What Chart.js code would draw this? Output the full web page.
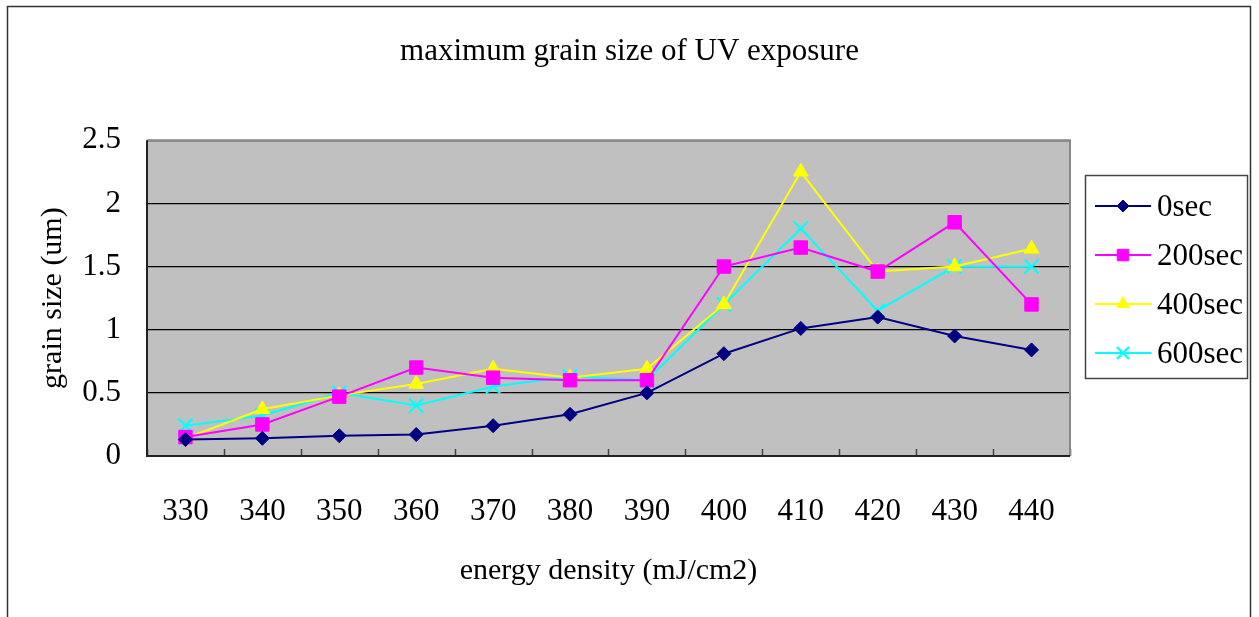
<!DOCTYPE html>
<html>
<head>
<meta charset="utf-8">
<script src="https://cdn.jsdelivr.net/npm/chart.js@4.4.0/dist/chart.umd.min.js"></script>
<style>
    html, body { margin: 0; padding: 0; background: #fff; }
    #wrap { width: 1259px; height: 617px; }
</style>
</head>
<body>
<div id="wrap"><canvas id="uvChart"></canvas></div>
<script>
const energyLabels = ['330', '340', '350', '360', '370', '380', '390', '400', '410', '420', '430', '440'];
const sec0 = [0.13, 0.14, 0.16, 0.17, 0.24, 0.33, 0.50, 0.81, 1.01, 1.10, 0.95, 0.84];
const sec200 = [0.15, 0.25, 0.47, 0.70, 0.62, 0.60, 0.60, 1.50, 1.65, 1.46, 1.85, 1.20];
const sec400 = [0.14, 0.37, 0.48, 0.57, 0.69, 0.62, 0.69, 1.20, 2.25, 1.46, 1.50, 1.64];
const sec600 = [0.24, 0.32, 0.50, 0.40, 0.55, 0.63, 0.60, 1.20, 1.80, 1.15, 1.50, 1.50];
const seriesNames = ['0sec', '200sec', '400sec', '600sec'];
const yTicks = [0, 0.5, 1, 1.5, 2, 2.5];

const FONT = "'Liberation Serif', 'DejaVu Serif', serif";

function makeSeries(label, data, color, style, radius) {
    return {
        label, data,
        borderColor: color,
        backgroundColor: color,
        borderWidth: 2,
        pointStyle: style,
        pointRadius: radius,
        pointHoverRadius: radius,
        pointBorderWidth: style === 'crossRot' ? 2.2 : 1,
        tension: 0
    };
}

// grey plot background, outer frame, inward x ticks
const framePlugin = {
    id: 'frame',
    beforeDraw(chart) {
        const { ctx, chartArea: a } = chart;
        ctx.save();
        ctx.fillStyle = '#c0c0c0';
        ctx.fillRect(a.left, a.top, a.right - a.left, a.bottom - a.top);
        ctx.strokeStyle = '#333';
        ctx.lineWidth = 1.5;
        ctx.strokeRect(7.5, 6.5, 1243, 640);
        ctx.restore();
    },
    afterDatasetsDraw(chart) {
        const { ctx, chartArea: a, scales } = chart;
        const x = scales.x;
        const step = x.getPixelForValue(1) - x.getPixelForValue(0);
        ctx.save();
        ctx.strokeStyle = '#444';
        ctx.lineWidth = 1.5;
        for (let i = 0; i <= energyLabels.length; i++) {
            const px = Math.round(x.getPixelForValue(i) - step / 2) + 0.5;
            ctx.beginPath();
            ctx.moveTo(px, a.bottom);
            ctx.lineTo(px, a.bottom - 7);
            ctx.stroke();
        }
        ctx.strokeStyle = '#888';
        ctx.lineWidth = 2;
        ctx.beginPath();
        ctx.moveTo(a.left, a.top);
        ctx.lineTo(a.right, a.top);
        ctx.lineTo(a.right, a.bottom);
        ctx.stroke();
        ctx.strokeStyle = '#222';
        ctx.beginPath();
        ctx.moveTo(a.left, a.top);
        ctx.lineTo(a.left, a.bottom);
        ctx.lineTo(a.right, a.bottom);
        ctx.stroke();
        ctx.restore();
    }
};

// boxed legend on the right, line + marker like the original
const boxLegend = {
    id: 'boxLegend',
    afterDraw(chart) {
        const { ctx, chartArea: a } = chart;
        const bx = a.right + 15, by = 175, bw = 162, bh = 203;
        ctx.save();
        ctx.fillStyle = '#fff';
        ctx.fillRect(bx, by, bw, bh);
        ctx.strokeStyle = '#444';
        ctx.lineWidth = 1.5;
        ctx.strokeRect(bx + 0.5, by + 0.5, bw, bh);
        ctx.font = '31px ' + FONT;
        ctx.textBaseline = 'middle';
        chart.data.datasets.forEach((ds, i) => {
            const cy = by + 31 + i * 49;
            ctx.strokeStyle = ds.borderColor;
            ctx.lineWidth = 2;
            ctx.beginPath();
            ctx.moveTo(bx + 10, cy);
            ctx.lineTo(bx + 66, cy);
            ctx.stroke();
            ctx.fillStyle = ds.backgroundColor;
            ctx.lineWidth = ds.pointBorderWidth;
            Chart.helpers.drawPoint(ctx, {
                pointStyle: ds.pointStyle,
                radius: ds.pointRadius * 0.85,
                borderWidth: ds.pointBorderWidth,
                rotation: 0
            }, bx + 38, cy);
            ctx.fillStyle = '#000';
            ctx.fillText(ds.label, bx + 72, cy + 2);
        });
        ctx.restore();
    }
};

const ctx = document.getElementById('uvChart').getContext('2d');
new Chart(ctx, {
    type: 'line',
    data: {
        labels: energyLabels,
        datasets: [
            makeSeries(seriesNames[0], sec0, '#000080', 'rectRot', 7),
            makeSeries(seriesNames[1], sec200, '#ff00ff', 'rect', 9.5),
            makeSeries(seriesNames[2], sec400, '#ffff00', 'triangle', 8.5),
            makeSeries(seriesNames[3], sec600, '#00ffff', 'crossRot', 10)
        ]
    },
    options: {
        responsive: true,
        maintainAspectRatio: false,
        animation: false,
        layout: { padding: 0 },
        plugins: {
            legend: { display: false },
            tooltip: { enabled: false },
            title: {
                display: true,
                text: 'maximum grain size of UV exposure',
                color: '#000',
                font: { family: FONT, size: 31, weight: 'normal' },
                padding: { top: 33, bottom: 70 }
            }
        },
        scales: {
            x: {
                offset: true,
                afterFit(scale) { scale.height = 161; },
                grid: { display: false, drawTicks: false },
                border: { display: false },
                ticks: {
                    color: '#000',
                    padding: 37,
                    maxRotation: 0,
                    font: { family: FONT, size: 31 }
                },
                title: {
                    display: true,
                    text: 'energy density (mJ/cm2)',
                    color: '#000',
                    font: { family: FONT, size: 30 },
                    padding: { top: 0, bottom: 28 }
                }
            },
            y: {
                min: 0,
                max: 2.5,
                afterFit(scale) { scale.width = 147; },
                afterBuildTicks(scale) { scale.ticks = yTicks.map(v => ({ value: v })); },
                grid: { color: '#000', lineWidth: 1.2, drawTicks: false },
                border: { display: false },
                ticks: {
                    color: '#000',
                    padding: 26,
                    font: { family: FONT, size: 31 },
                    callback: v => String(v)
                },
                title: {
                    display: true,
                    text: 'grain size (um)',
                    color: '#000',
                    font: { family: FONT, size: 30 },
                    padding: { top: 35, bottom: 0 }
                }
            },
            legendSpace: {
                type: 'linear',
                position: 'right',
                display: true,
                afterFit(scale) { scale.width = 189; },
                grid: { display: false, drawTicks: false },
                border: { display: false },
                ticks: { display: false }
            }
        }
    },
    plugins: [framePlugin, boxLegend]
});
</script>
</body>
</html>
